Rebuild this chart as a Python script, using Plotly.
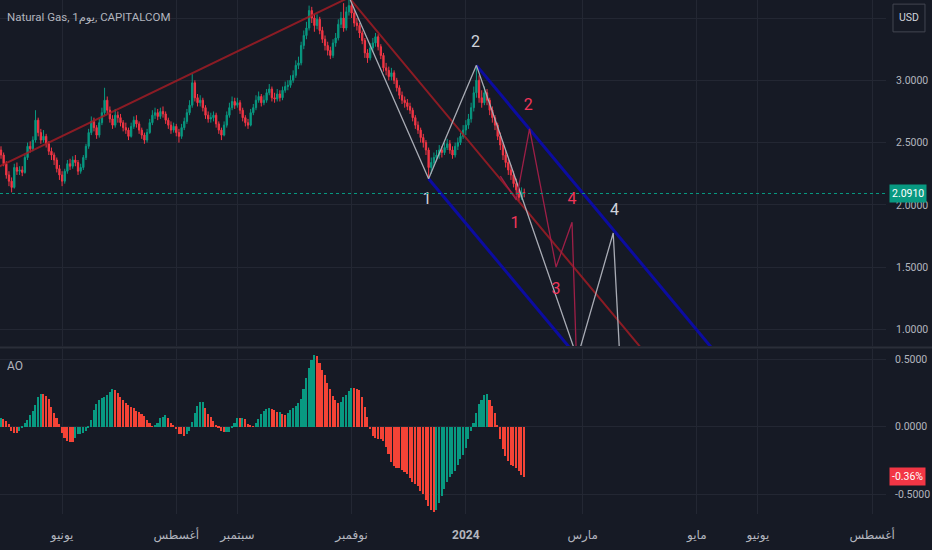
import pandas as pd
import plotly.graph_objects as go
from plotly.subplots import make_subplots

# daily bars (weekdays) from 2023-05-01 to 2024-01-31
dates = pd.bdate_range("2023-05-01", "2024-01-31")

first_open = 2.44
closes = [
    2.40, 2.33, 2.24, 2.19, 2.14, 2.30, 2.27, 2.28, 2.26, 2.38,
    2.47, 2.45, 2.52, 2.68, 2.58, 2.52, 2.55, 2.49, 2.43, 2.40,
    2.36, 2.29, 2.24, 2.19, 2.27, 2.33, 2.31, 2.36, 2.34, 2.27,
    2.30, 2.38, 2.47, 2.58, 2.67, 2.62, 2.56, 2.66, 2.74, 2.84,
    2.76, 2.69, 2.64, 2.72, 2.70, 2.66, 2.62, 2.60, 2.55, 2.63,
    2.68, 2.65, 2.60, 2.56, 2.52, 2.58, 2.66, 2.72, 2.74, 2.71,
    2.75, 2.73, 2.68, 2.64, 2.60, 2.63, 2.58, 2.55, 2.62, 2.67,
    2.74, 2.80, 2.98, 2.86, 2.82, 2.84, 2.78, 2.72, 2.69, 2.70,
    2.72, 2.65, 2.60, 2.56, 2.64, 2.72, 2.78, 2.83, 2.80, 2.82,
    2.76, 2.70, 2.66, 2.64, 2.74, 2.78, 2.84, 2.87, 2.82, 2.84,
    2.90, 2.93, 2.86, 2.85, 2.89, 2.86, 2.92, 2.95, 2.96, 3.00,
    3.04, 3.12, 3.14, 3.28, 3.36, 3.42, 3.56, 3.50, 3.44, 3.49,
    3.40, 3.33, 3.28, 3.24, 3.20, 3.30, 3.34, 3.45, 3.50, 3.42,
    3.55, 3.60, 3.54, 3.46, 3.44, 3.38, 3.32, 3.22, 3.18, 3.26,
    3.30, 3.35, 3.27, 3.20, 3.10, 3.08, 3.03, 3.06, 3.00, 2.94,
    2.88, 2.84, 2.82, 2.79, 2.76, 2.70, 2.64, 2.60, 2.54, 2.50,
    2.44, 2.30, 2.34, 2.38, 2.40, 2.44, 2.42, 2.46, 2.49, 2.44,
    2.40, 2.47, 2.50, 2.55, 2.60, 2.64, 2.69, 2.78, 2.90, 3.00,
    2.86, 2.82, 2.90, 2.84, 2.76, 2.70, 2.64, 2.55, 2.48, 2.40,
    2.34, 2.28, 2.24, 2.17, 2.12, 2.06, 2.10, 2.091,
]
highs = [
    2.47, 2.42, 2.35, 2.27, 2.22, 2.33, 2.34, 2.31, 2.31, 2.40,
    2.50, 2.51, 2.55, 2.76, 2.70, 2.61, 2.60, 2.57, 2.51, 2.46,
    2.42, 2.38, 2.32, 2.27, 2.29, 2.36, 2.37, 2.39, 2.40, 2.36,
    2.33, 2.40, 2.49, 2.61, 2.71, 2.70, 2.64, 2.69, 2.78, 2.94,
    2.87, 2.79, 2.72, 2.77, 2.75, 2.73, 2.68, 2.66, 2.62, 2.66,
    2.71, 2.72, 2.67, 2.62, 2.58, 2.61, 2.69, 2.76, 2.78, 2.77,
    2.78, 2.79, 2.75, 2.70, 2.67, 2.66, 2.65, 2.61, 2.65, 2.70,
    2.77, 2.84, 3.05, 3.00, 2.89, 2.88, 2.86, 2.80, 2.75, 2.74,
    2.75, 2.74, 2.67, 2.62, 2.67, 2.75, 2.82, 2.87, 2.86, 2.86,
    2.84, 2.78, 2.72, 2.69, 2.77, 2.81, 2.88, 2.91, 2.89, 2.88,
    2.93, 2.97, 2.95, 2.90, 2.93, 2.92, 2.95, 2.99, 3.00, 3.04,
    3.08, 3.16, 3.19, 3.31, 3.40, 3.47, 3.60, 3.59, 3.53, 3.53,
    3.51, 3.43, 3.36, 3.31, 3.27, 3.33, 3.38, 3.49, 3.55, 3.62,
    3.59, 3.66, 3.64, 3.57, 3.50, 3.46, 3.40, 3.34, 3.25, 3.30,
    3.34, 3.38, 3.37, 3.29, 3.22, 3.14, 3.11, 3.10, 3.08, 3.02,
    2.96, 2.91, 2.87, 2.85, 2.82, 2.78, 2.72, 2.67, 2.62, 2.57,
    2.52, 2.46, 2.38, 2.42, 2.44, 2.48, 2.47, 2.50, 2.53, 2.52,
    2.47, 2.50, 2.54, 2.58, 2.64, 2.68, 2.73, 2.82, 2.95, 3.12,
    3.04, 2.92, 2.95, 2.93, 2.86, 2.79, 2.72, 2.66, 2.58, 2.50,
    2.44, 2.37, 2.32, 2.27, 2.21, 2.14, 2.14, 2.13,
]
lows = [
    2.37, 2.31, 2.21, 2.15, 2.10, 2.13, 2.24, 2.24, 2.23, 2.25,
    2.36, 2.42, 2.43, 2.50, 2.55, 2.49, 2.50, 2.46, 2.40, 2.36,
    2.32, 2.26, 2.20, 2.15, 2.17, 2.25, 2.28, 2.29, 2.31, 2.24,
    2.25, 2.28, 2.36, 2.45, 2.56, 2.59, 2.53, 2.54, 2.64, 2.72,
    2.73, 2.66, 2.61, 2.62, 2.66, 2.63, 2.59, 2.57, 2.52, 2.54,
    2.61, 2.62, 2.57, 2.53, 2.49, 2.50, 2.57, 2.64, 2.69, 2.68,
    2.69, 2.70, 2.65, 2.61, 2.57, 2.58, 2.55, 2.50, 2.53, 2.60,
    2.65, 2.72, 2.78, 2.83, 2.79, 2.79, 2.75, 2.69, 2.66, 2.66,
    2.67, 2.62, 2.57, 2.52, 2.55, 2.62, 2.70, 2.76, 2.77, 2.78,
    2.73, 2.67, 2.63, 2.61, 2.63, 2.72, 2.76, 2.82, 2.79, 2.80,
    2.82, 2.88, 2.83, 2.82, 2.83, 2.83, 2.84, 2.90, 2.92, 2.94,
    2.98, 3.02, 3.09, 3.12, 3.25, 3.33, 3.40, 3.46, 3.39, 3.41,
    3.37, 3.30, 3.24, 3.20, 3.17, 3.18, 3.27, 3.32, 3.42, 3.39,
    3.40, 3.52, 3.50, 3.43, 3.40, 3.34, 3.29, 3.18, 3.14, 3.16,
    3.23, 3.27, 3.24, 3.17, 3.07, 3.04, 3.00, 3.00, 2.97, 2.91,
    2.85, 2.81, 2.78, 2.76, 2.73, 2.67, 2.61, 2.57, 2.50, 2.46,
    2.40, 2.21, 2.25, 2.31, 2.35, 2.37, 2.38, 2.40, 2.44, 2.41,
    2.37, 2.38, 2.44, 2.48, 2.53, 2.56, 2.61, 2.66, 2.75, 2.86,
    2.82, 2.78, 2.80, 2.80, 2.72, 2.66, 2.60, 2.52, 2.44, 2.36,
    2.30, 2.24, 2.20, 2.14, 2.08, 2.03, 2.04, 2.06,
]
opens = [first_open] + closes[:-1]

# Awesome Oscillator values
ao = [
    0.067, 0.054, 0.042, 0.017, -0.032, -0.044, -0.049, -0.032, -0.007, 0.025,
    0.047, 0.084, 0.116, 0.158, 0.220, 0.244, 0.240, 0.227, 0.207, 0.146,
    0.099, 0.062, 0.017, -0.044, -0.086, -0.106, -0.111, -0.114, -0.086, -0.057,
    -0.052, -0.044, -0.032, -0.007, 0.049, 0.121, 0.165, 0.195, 0.215, 0.220,
    0.235, 0.259, 0.277, 0.275, 0.252, 0.220, 0.198, 0.178, 0.158, 0.146,
    0.136, 0.116, 0.106, 0.096, 0.079, 0.047, 0.025, 0.005, 0.010, 0.025,
    0.062, 0.074, 0.084, 0.062, 0.027, 0.012, -0.020, -0.052, -0.057, -0.069,
    -0.052, -0.032, 0.035, 0.104, 0.153, 0.183, 0.185, 0.136, 0.096, 0.074,
    0.042, 0.010, -0.007, -0.032, -0.040, -0.037, -0.036, -0.012, 0.025, 0.067,
    0.066, 0.068, 0.054, 0.022, 0.012, 0.005, 0.025, 0.054,
    0.096, 0.116, 0.128, 0.136, 0.134, 0.121, 0.111, 0.112, 0.091, 0.090,
    0.104, 0.121, 0.136, 0.153, 0.175, 0.205, 0.277, 0.358, 0.437, 0.491,
    0.528, 0.521, 0.474, 0.422, 0.383, 0.326, 0.277, 0.227, 0.195, 0.173,
    0.183, 0.220, 0.235, 0.264, 0.289, 0.284, 0.277, 0.269, 0.222, 0.146,
    0.074, -0.020, -0.069, -0.086, -0.087, -0.088, -0.106, -0.151, -0.205, -0.259,
    -0.291, -0.304, -0.309, -0.323, -0.333, -0.353, -0.383, -0.407, -0.422, -0.440,
    -0.477, -0.501, -0.546, -0.588, -0.620, -0.630, -0.620, -0.565, -0.516, -0.464,
    -0.410, -0.373, -0.353, -0.328, -0.284, -0.242, -0.210, -0.156, -0.094, -0.032,
    0.025, 0.104, 0.165, 0.195, 0.235, 0.244, 0.195, 0.151, 0.104, 0.012,
    -0.089, -0.163, -0.217, -0.254, -0.286, -0.291, -0.304, -0.328, -0.358, -0.373,
]
last_price = 2.091

# hand drawn lines (date, price)
red_trend_dates = ["2023-04-26", "2023-10-31", "2024-04-15"]
red_trend_prices = [2.284, 3.665, 0.62]
gray_wave_dates = ["2023-10-31", "2023-12-12", "2024-01-05", "2024-02-28",
                   "2024-03-18 12:00", "2024-03-21 12:00"]
gray_wave_prices = [3.67, 2.21, 3.12, 0.77, 1.774, 0.57]
crimson_wave_dates = ["2024-01-18", "2024-01-26", "2024-02-02", "2024-02-16",
                      "2024-02-26", "2024-02-28"]
crimson_wave_prices = [2.23, 2.04, 2.61, 1.50, 1.86, 0.54]
blue_low_dates = ["2023-12-12", "2024-03-18"]
blue_low_prices = [2.21, 0.446]
blue_up_dates = ["2024-01-05", "2024-05-27"]
blue_up_prices = [3.12, 0.533]

gray_label_dates = ["2023-12-11 10:00", "2024-01-04 16:00", "2024-03-19"]
gray_label_prices = [2.04, 3.30, 1.95]
gray_label_text = ["1", "2", "4"]
crimson_label_dates = ["2024-01-25 12:00", "2024-02-01 12:00", "2024-02-16", "2024-02-26"]
crimson_label_prices = [1.85, 2.79, 1.316, 2.04]
crimson_label_text = ["1", "2", "3", "4"]

# time axis
tick_dates = ["2023-06-01", "2023-08-01", "2023-09-01", "2023-11-01", "2024-01-01",
              "2024-03-01", "2024-05-01", "2024-06-03", "2024-08-01"]
tick_text = ["يونيو", "أغسطس", "سبتمبر", "نوفمبر", "<b>2024</b>",
             "مارس", "مايو", "يونيو", "أغسطس"]

BG = "#161a25"
GRID = "#232733"
TXT = "#b2b5be"
UP = "#089981"
DOWN = "#f23645"
FONT = "Roboto, DejaVu Sans, sans-serif"

fig = make_subplots(rows=2, cols=1, shared_xaxes=True, vertical_spacing=0.01)

fig.add_trace(go.Candlestick(x=dates, open=opens, high=highs, low=lows, close=closes,
                             increasing=dict(line=dict(color=UP, width=1), fillcolor=UP),
                             decreasing=dict(line=dict(color=DOWN, width=1), fillcolor=DOWN),
                             whiskerwidth=0, hoverinfo="skip"), row=1, col=1)

def add_line(xs, ys, color, width):
    fig.add_trace(go.Scatter(x=xs, y=ys, mode="lines", line=dict(color=color, width=width),
                             hoverinfo="skip"), row=1, col=1)

add_line(red_trend_dates, red_trend_prices, "rgba(160,28,36,0.85)", 2)
add_line(blue_low_dates, blue_low_prices, "#0c0ca0", 3)
add_line(blue_up_dates, blue_up_prices, "#0c0ca0", 3)
add_line(gray_wave_dates, gray_wave_prices, "#a9acb5", 1.3)
add_line(crimson_wave_dates, crimson_wave_prices, "#9e1f47", 1.3)

fig.add_trace(go.Scatter(x=gray_label_dates, y=gray_label_prices, mode="text",
                         text=gray_label_text, textposition="middle center",
                         textfont=dict(color="#d1d4dc", size=16, family=FONT),
                         hoverinfo="skip"), row=1, col=1)
fig.add_trace(go.Scatter(x=crimson_label_dates, y=crimson_label_prices, mode="text",
                         text=crimson_label_text, textposition="middle center",
                         textfont=dict(color="#f2365a", size=16, family=FONT),
                         hoverinfo="skip"), row=1, col=1)

# AO histogram, green when rising, red when falling
ao_colors = [UP if i == 0 or ao[i] > ao[i - 1] else "#f44336" for i in range(len(ao))]
fig.add_trace(go.Bar(x=dates, y=ao, marker=dict(color=ao_colors, line=dict(width=0)),
                     width=0.6 * 86400000, hoverinfo="skip"), row=2, col=1)

fig.update_xaxes(rangebreaks=[dict(bounds=["sat", "mon"])],
                 range=["2023-04-28 15:00", "2024-08-08 05:00"],
                 tickvals=tick_dates, ticktext=tick_text,
                 showgrid=True, gridcolor=GRID, gridwidth=1, zeroline=False,
                 showline=False, ticks="", tickfont=dict(color=TXT, size=12, family=FONT),
                 rangeslider_visible=False)
fig.update_xaxes(showticklabels=False, row=1, col=1)
fig.update_xaxes(ticklabelstandoff=12, row=2, col=1)

fig.update_layout(
    width=932, height=550,
    paper_bgcolor=BG, plot_bgcolor=BG,
    showlegend=False, hovermode=False, bargap=0,
    margin=dict(l=0, r=46, t=0, b=36),
    font=dict(family=FONT, color=TXT),
    yaxis=dict(domain=[0.3268, 1], range=[0.866, 3.645], side="right", automargin=False,
               tickvals=[1.0, 1.5, 2.0, 2.5, 3.0, 3.5],
               ticktext=["1.0000", "1.5000", "2.0000", "2.5000", "3.0000", ""],
               gridcolor=GRID, zeroline=False, showline=False, ticks="",
               ticklabelstandoff=9, tickfont=dict(color=TXT, size=10.5)),
    yaxis2=dict(domain=[0, 0.321], range=[-0.646, 0.576], side="right", automargin=False,
                tickvals=[-0.5, 0.0, 0.5], ticktext=["-0.5000", "0.0000", "0.5000"],
                gridcolor=GRID, zeroline=False, showline=False, ticks="",
                ticklabelstandoff=8, tickfont=dict(color=TXT, size=10.5)),
)

# last price dotted line and pane separator
fig.add_shape(type="line", xref="paper", yref="y", x0=0, x1=1, y0=last_price, y1=last_price,
              line=dict(color=UP, width=1, dash="dot"))
fig.add_shape(type="line", xref="paper", yref="paper", x0=0, x1=1.06, y0=0.3239, y1=0.3239,
              line=dict(color="#2a2e39", width=2))

# USD button
fig.add_shape(type="rect", xref="paper", yref="paper", x0=1.0079, x1=1.044, y0=0.938, y1=0.992,
              line=dict(color="#434651", width=1), fillcolor=BG)
fig.add_annotation(text="USD", xref="paper", yref="paper", x=1.026, y=0.965,
                   xanchor="center", yanchor="middle", showarrow=False,
                   font=dict(color="#d1d4dc", size=10.5))

fig.add_annotation(text="Natural Gas, 1يوم, CAPITALCOM", xref="paper", yref="paper",
                   x=0.006, y=0.965, xanchor="left", yanchor="middle", showarrow=False,
                   font=dict(color=TXT, size=11.5))
fig.add_annotation(text="AO", xref="paper", yref="paper", x=0.006, y=0.288,
                   xanchor="left", yanchor="middle", showarrow=False,
                   font=dict(color=TXT, size=12))

fig.add_annotation(text="2.0910", xref="paper", yref="y", x=1.003, y=last_price,
                   xanchor="left", yanchor="middle", showarrow=False, bgcolor=UP,
                   borderpad=2, font=dict(color="white", size=10.5))
fig.add_annotation(text="-0.36%", xref="paper", yref="y2", x=1.003, y=-0.368,
                   xanchor="left", yanchor="middle", showarrow=False, bgcolor=DOWN,
                   borderpad=2, font=dict(color="white", size=10.5))

# page has a default body margin, remove it so the chart fills the window
fig.write_html("out.html", config={"displayModeBar": False},
               post_script="document.body.style.margin='0';")
